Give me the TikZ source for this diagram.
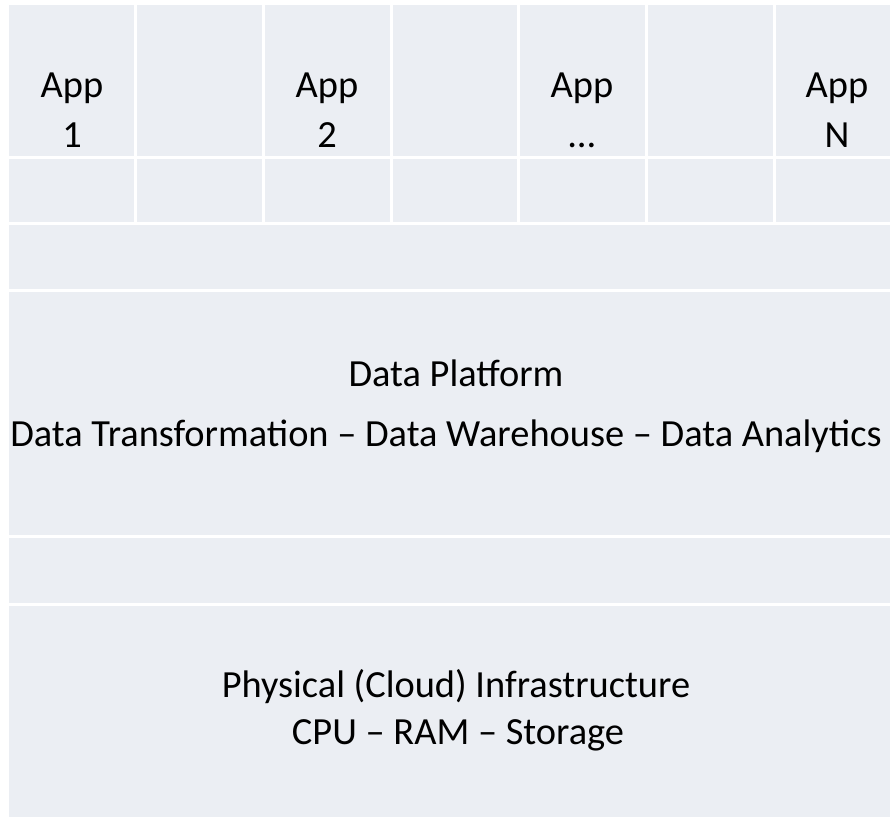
\documentclass[tikz,border=0pt]{standalone}
\usepackage{fontspec}
\setmainfont{Carlito}
\definecolor{cellfill}{RGB}{235,238,243}
\tikzset{
  sep/.style={white, line width=1.5pt},
  lbl/.style={anchor=base, inner sep=0pt, font=\fontsize{19.2}{23}\selectfont}
}

\begin{document}
\begin{tikzpicture}[x=0.5pt, y=-0.5pt]
			%%%%% START %%%%%
			\useasboundingbox (0, 0) rectangle (890, 818);
			\fill[white] (0, 0) rectangle (890, 818);
			\fill[cellfill] (9, 5) rectangle (890, 817);
			
			% rows
			\draw[sep] (9, 157.5) -- (890, 157.5);
			\draw[sep] (9, 224) -- (890, 224);
			\draw[sep] (9, 291) -- (890, 291);
			\draw[sep] (9, 537) -- (890, 537);
			\draw[sep] (9, 604) -- (890, 604);
			
			% app columns
			\draw[sep] (135.5, 5) -- (135.5, 224);
			\draw[sep] (263.5, 5) -- (263.5, 224);
			\draw[sep] (391, 5) -- (391, 224);
			\draw[sep] (518.5, 5) -- (518.5, 224);
			\draw[sep] (646.5, 5) -- (646.5, 224);
			\draw[sep] (774, 5) -- (774, 224);
			
			\node[lbl] (app1a) at (72, 98) {App};
			\node[lbl] (app1b) at (72, 148) {1};
			\node[lbl] (app2a) at (327, 98) {App};
			\node[lbl] (app2b) at (327, 148) {2};
			\node[lbl] (appxa) at (582, 98) {App};
			\node[lbl] (appxb) at (582, 148) {…};
			\node[lbl] (appna) at (837, 98) {App};
			\node[lbl] (appnb) at (837, 148) {N};
			
			\node[lbl] (platform) at (456, 387) {Data Platform};
			\node[lbl] (platformparts) at (446, 447) {Data Transformation – Data Warehouse – Data Analytics};
			
			\node[lbl] (infra) at (456, 697) {Physical (Cloud) Infrastructure};
			\node[lbl] (infraparts) at (458, 744) {CPU – RAM – Storage};
			
			%%%%% END %%%%%
\end{tikzpicture}
\end{document}
